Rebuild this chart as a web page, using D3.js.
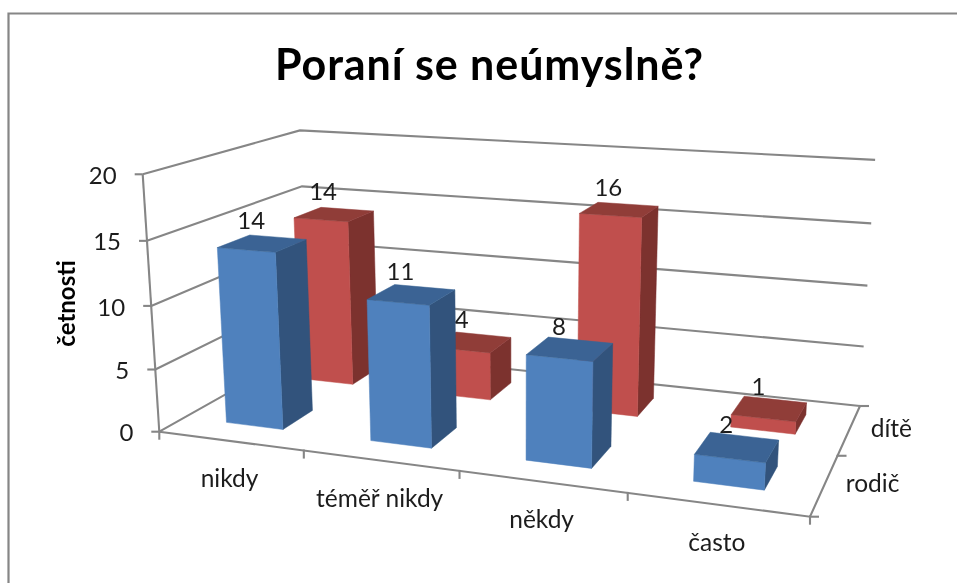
<!DOCTYPE html>
<html><head><meta charset="utf-8">
<script src="https://cdn.jsdelivr.net/npm/d3@7"></script>
<style>html,body{margin:0;padding:0;background:#fff}svg{display:block}text{font-family:Lato,Carlito,"Noto Sans",sans-serif;fill:#1c1c1c}</style>
</head><body><script>
const titleText = "Poraní se neúmyslně?";
const yTitle = "četnosti";
const categories = ["nikdy","téměř nikdy","někdy","často"];
const seriesNames = ["rodič","dítě"];
const rodic = [14,11,8,2];
const dite = [14,4,16,1];
const yTicks = [0,5,10,15,20];

const W=957,H=583;
const root=d3.select("body").append("svg").attr("width",W).attr("height",H);
root.append("defs").append("filter").attr("id","soft").attr("x",0).attr("y",0).attr("filterUnits","userSpaceOnUse")
  .attr("width",W).attr("height",H)
  .append("feGaussianBlur").attr("stdDeviation",.45);
const svg=root.append("g").attr("filter","url(#soft)");

// perspective camera: floor quad [front-left, front-right, back-right, back-left],
// vanishing point of the vertical direction and its strength
const floorQuad=[[159.3,431.7],[810,516.7],[860,406],[308,348]];
const vanish=[517.5,5985], alpha=-0.0443;
function squareToQuad(q){
  const [[x0,y0],[x1,y1],[x2,y2],[x3,y3]]=q;
  const dx1=x1-x2,dx2=x3-x2,sx=x0-x1+x2-x3,dy1=y1-y2,dy2=y3-y2,sy=y0-y1+y2-y3;
  const den=dx1*dy2-dx2*dy1;
  const g=(sx*dy2-dx2*sy)/den,h=(dx1*sy-sx*dy1)/den;
  const a=x1-x0+g*x1,b=x3-x0+h*x3,c=x0,d=y1-y0+g*y1,e=y3-y0+h*y3,f=y0;
  return (u,v)=>[a*u+b*v+c,d*u+e*v+f,g*u+h*v+1];
}
const floorH=squareToQuad(floorQuad);
const xBand=d3.scaleBand().domain(categories).range([0,1]).paddingInner(.6).paddingOuter(.3);
const zBand=d3.scaleBand().domain(seriesNames).range([0,1]).paddingInner(.6).paddingOuter(.3);
const yScale=d3.scaleLinear().domain([0,20]).range([0,1]);
function P(u,z,val){
  const [X,Y,w]=floorH(u,z),k=yScale(val)*alpha;
  return [(X+k*vanish[0])/(w+k),(Y+k*vanish[1])/(w+k)];
}
const line=d3.line();
const GRID="#868686";
const stroke=(pts,w=2.1)=>svg.append("path").attr("d",line(pts)).attr("fill","none").attr("stroke",GRID).attr("stroke-width",w);

// frame
stroke([[8.5,583],[8.5,13.5],[957,13.5]],2.2);

// gridlines on the walls
yTicks.forEach(v=>{ stroke([P(0,0,v),P(0,1,v),P(1,1,v)]); });
// axes
stroke([P(0,0,0),P(0,0,20)]);
stroke([P(0,0,0),P(1,0,0),P(1,1,0)]);
// value ticks and labels
yTicks.forEach(v=>{
  const p=P(0,0,v);
  stroke([[p[0]-8,p[1]],[p[0]+(v===0?2:0),p[1]]]);
  svg.append("text").attr("x",p[0]-26).attr("y",p[1]+1).attr("dy","0.36em").attr("text-anchor","end").attr("font-size",24).text(v);
});
// category ticks
d3.range(categories.length+1).forEach(i=>{
  const p=P(i/categories.length,0,0);
  stroke([[p[0],p[1]-1],[p[0],p[1]+8]]);
});
categories.forEach((c,i)=>{
  const a=P(i/4,0,0),b=P((i+1)/4,0,0);
  svg.append("text").attr("x",(a[0]+b[0])/2-2).attr("y",(a[1]+b[1])/2+37).attr("dy","0.36em").attr("text-anchor","middle").attr("font-size",24.5).text(c);
});
// series ticks
d3.range(seriesNames.length+1).forEach(i=>{
  const p=P(1,i/seriesNames.length,0);
  stroke([[p[0]-1,p[1]],[p[0]+9,p[1]]]);
});
seriesNames.forEach((s,i)=>{
  const a=P(1,i/2,0),b=P(1,(i+1)/2,0);
  svg.append("text").attr("x",(a[0]+b[0])/2+22).attr("y",(a[1]+b[1])/2-3).attr("dy","0.36em").attr("font-size",24.5).text(s);
});

// bars, back series first
const colors=[{front:"#4f81bd",side:"#30527b",top:"#3b6494"},{front:"#c0504d",side:"#7b302e",top:"#903c39"}];
const face=(pts,fill)=>svg.append("path").attr("d",line(pts)+"Z").attr("fill",fill).attr("stroke",fill).attr("stroke-width",.5);
[[dite,1],[rodic,0]].forEach(([vals,si])=>{
  const c=colors[si],z0=zBand(seriesNames[si]),z1=z0+zBand.bandwidth();
  vals.forEach((v,i)=>{
    const u0=xBand(categories[i]),u1=u0+xBand.bandwidth();
    face([P(u1,z0,0),P(u1,z1,0),P(u1,z1,v),P(u1,z0,v)],c.side);
    face([P(u0,z0,0),P(u1,z0,0),P(u1,z0,v),P(u0,z0,v)],c.front);
    face([P(u0,z0,v),P(u1,z0,v),P(u1,z1,v),P(u0,z1,v)],c.top);
    const q=[P(u0,z0,v),P(u1,z0,v),P(u1,z1,v),P(u0,z1,v)];
    svg.append("text").attr("x",d3.mean(q,d=>d[0])-11).attr("y",d3.mean(q,d=>d[1])-23).attr("dy","0.36em")
      .attr("text-anchor","middle").attr("font-size",24).text(v);
  });
});

svg.append("text").attr("x",489).attr("y",80).attr("text-anchor","middle").attr("font-size",43).attr("font-weight",700).attr("textLength",428).attr("lengthAdjust","spacing").style("fill","#000").text(titleText);
svg.append("text").attr("transform","translate(75,303.5) rotate(-90)").attr("text-anchor","middle").attr("font-size",24).attr("font-weight",700).style("fill","#000").text(yTitle);
</script></body></html>
